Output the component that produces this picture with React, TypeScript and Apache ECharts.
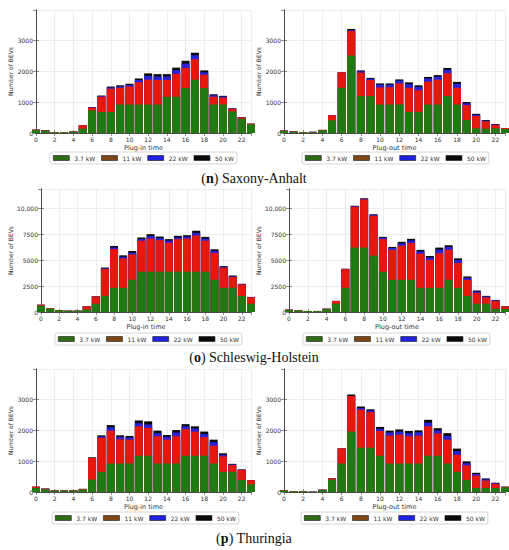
import React, { useEffect, useRef } from "react";
import * as echarts from "echarts";

const hours = [0, 1, 2, 3, 4, 5, 6, 7, 8, 9, 10, 11, 12, 13, 14, 15, 16, 17, 18, 19, 20, 21, 22, 23];
const seriesNames = ["3.7 kW", "11 kW", "22 kW", "50 kW"];

// (n) Saxony-Anhalt, plug-in
const saInG = [90, 75, 25, 25, 40, 140, 730, 680, 680, 920, 920, 920, 920, 920, 1170, 1170, 1450, 1720, 1450, 920, 920, 700, 460, 280];
const saInR = [15, 10, 5, 5, 10, 110, 90, 490, 750, 540, 580, 720, 800, 790, 540, 740, 650, 660, 430, 250, 220, 80, 45, 20];
const saInB = [0, 0, 0, 0, 0, 0, 10, 25, 40, 45, 50, 70, 120, 110, 110, 120, 140, 130, 80, 45, 35, 10, 5, 0];
const saInK = [5, 0, 0, 0, 0, 0, 10, 15, 30, 35, 40, 50, 85, 80, 80, 80, 90, 80, 60, 35, 25, 10, 5, 0];
// (n) Saxony-Anhalt, plug-out
const saOutG = [60, 40, 25, 20, 85, 410, 1460, 2500, 1190, 1190, 920, 920, 920, 680, 680, 920, 920, 1190, 920, 420, 150, 140, 150, 130];
const saOutR = [15, 10, 5, 10, 15, 160, 500, 790, 760, 520, 550, 560, 680, 780, 700, 740, 800, 740, 540, 480, 400, 240, 110, 30];
const saOutB = [0, 0, 0, 10, 0, 0, 0, 30, 40, 40, 90, 80, 90, 120, 110, 100, 100, 110, 130, 60, 40, 20, 15, 0];
const saOutK = [5, 0, 0, 0, 0, 0, 0, 40, 30, 30, 40, 40, 40, 55, 50, 50, 50, 60, 60, 40, 30, 20, 15, 0];
// (o) Schleswig-Holstein, plug-in
const shInG = [600, 330, 160, 110, 110, 250, 800, 1560, 2340, 2340, 3120, 3900, 3900, 3900, 3900, 3900, 3900, 3900, 3900, 3120, 2340, 2340, 1560, 800];
const shInR = [100, 60, 35, 20, 20, 300, 700, 2600, 3750, 2850, 2450, 3000, 3200, 3050, 2800, 3150, 3200, 3500, 3000, 2600, 1950, 1050, 1100, 620];
const shInB = [0, 0, 0, 0, 0, 0, 0, 60, 150, 150, 170, 160, 250, 200, 200, 170, 180, 250, 200, 200, 80, 70, 40, 0];
const shInK = [0, 0, 0, 0, 0, 0, 30, 80, 150, 140, 160, 150, 180, 150, 150, 150, 150, 210, 170, 150, 70, 70, 30, 40];
// (o) Schleswig-Holstein, plug-out
const shOutG = [200, 140, 90, 90, 280, 800, 2340, 6230, 6230, 5450, 3900, 3120, 3120, 3120, 2340, 2340, 2340, 3120, 2340, 1560, 800, 800, 300, 300];
const shOutR = [30, 20, 10, 10, 40, 270, 1800, 3950, 4650, 3850, 3150, 2900, 3300, 3550, 3300, 2700, 3350, 2900, 2400, 1550, 1050, 620, 770, 230];
const shOutB = [0, 0, 0, 0, 0, 0, 0, 50, 60, 80, 130, 170, 220, 250, 230, 230, 340, 270, 280, 200, 130, 80, 60, 0];
const shOutK = [0, 0, 0, 0, 0, 0, 50, 60, 60, 80, 90, 110, 150, 160, 140, 150, 200, 170, 170, 130, 100, 60, 40, 20];
// (p) Thuringia, plug-in
const thInG = [130, 90, 45, 45, 45, 80, 400, 650, 920, 920, 920, 1170, 1170, 920, 920, 920, 1170, 1170, 1170, 920, 650, 650, 390, 250];
const thInR = [40, 20, 10, 10, 10, 20, 700, 1100, 1060, 780, 770, 950, 900, 880, 770, 880, 860, 780, 600, 570, 500, 220, 320, 130];
const thInB = [0, 0, 0, 0, 0, 0, 0, 40, 100, 80, 70, 100, 110, 100, 90, 120, 90, 100, 100, 120, 50, 20, 10, 0];
const thInK = [0, 0, 0, 0, 0, 0, 20, 40, 80, 50, 50, 90, 100, 80, 60, 80, 70, 70, 80, 80, 50, 20, 10, 0];
// (p) Thuringia, plug-out
const thOutG = [50, 25, 25, 10, 65, 400, 920, 1950, 1430, 1430, 1170, 920, 920, 920, 920, 1170, 1170, 920, 650, 390, 130, 130, 130, 150];
const thOutR = [10, 5, 5, 0, 10, 40, 490, 1150, 1230, 1150, 800, 900, 930, 880, 900, 950, 720, 770, 550, 470, 400, 240, 130, 20];
const thOutB = [0, 0, 0, 0, 0, 0, 0, 0, 50, 50, 70, 100, 100, 100, 110, 120, 100, 120, 120, 70, 50, 40, 20, 0];
const thOutK = [0, 0, 0, 0, 0, 0, 0, 50, 50, 40, 60, 60, 70, 70, 60, 90, 70, 90, 80, 60, 40, 30, 20, 0];

const captions = [
  { letter: "n", name: "Saxony-Anhalt" },
  { letter: "o", name: "Schleswig-Holstein" },
  { letter: "p", name: "Thuringia" },
];

const FONT = "DejaVu Sans";
const barColors = ["#1f7a12", "#e8170c", "#2a22d8", "#0a0a0a"];
const legendColors = ["#2f6a14", "#7e4614", "#1f1fe0", "#0a0a0a"];

const panels = [
  { left: 36, top: 10, width: 215, yMax: 3970, interval: 1000, xName: "Plug-in time", nameGap: 23, legendLeft: 50, legendTop: 152, data: [saInG, saInR, saInB, saInK] },
  { left: 284, top: 10, width: 221, yMax: 3970, interval: 1000, xName: "Plug-out time", nameGap: 23, legendLeft: 302, legendTop: 152, data: [saOutG, saOutR, saOutB, saOutK] },
  { left: 41, top: 189, width: 210, yMax: 11900, interval: 2500, xName: "Plug-in time", nameGap: 28, legendLeft: 55, legendTop: 333, data: [shInG, shInR, shInB, shInK] },
  { left: 289, top: 189, width: 216, yMax: 11900, interval: 2500, xName: "Plug-out time", nameGap: 28, legendLeft: 303, legendTop: 333, data: [shOutG, shOutR, shOutB, shOutK] },
  { left: 36, top: 369, width: 215, yMax: 3970, interval: 1000, xName: "Plug-in time", nameGap: 23, legendLeft: 52, legendTop: 512, data: [thInG, thInR, thInB, thInK] },
  { left: 284, top: 369, width: 221, yMax: 3970, interval: 1000, xName: "Plug-out time", nameGap: 23, legendLeft: 301, legendTop: 512, data: [thOutG, thOutR, thOutB, thOutK] },
];

const captionY = [178, 357, 538];

const fmt = (v: number) => (v >= 10000 ? v.toLocaleString("en-US") : String(v));

export default function App() {
  const ref = useRef<HTMLDivElement>(null);
  useEffect(() => {
    if (!ref.current) return;
    const chart = echarts.init(ref.current, null, { renderer: "svg" });
    const axisLine = { show: true, lineStyle: { color: "#444", width: 0.8 } };
    const tick = { show: true, inside: true, length: 3, lineStyle: { color: "#444", width: 0.6 } };
    const split = { show: true, lineStyle: { color: "#e2e2e2", width: 0.6 } };
    const grid: any[] = [];
    const xAxis: any[] = [];
    const yAxis: any[] = [];
    const series: any[] = [];
    const legend: any[] = [];
    panels.forEach((p, i) => {
      grid.push({ left: p.left, top: p.top, width: p.width, height: 123, containLabel: false });
      xAxis.push({
        gridIndex: i, type: "value", min: 0, max: 23, interval: 2, position: "bottom",
        name: p.xName, nameLocation: "middle", nameGap: 11,
        nameTextStyle: { fontSize: 6.5, color: "#333", fontFamily: FONT },
        axisLine, axisTick: tick,
        axisLabel: { fontSize: 6, color: "#333", margin: 3, showMaxLabel: false, fontFamily: FONT },
        splitLine: split,
      });
      xAxis.push({
        gridIndex: i, type: "value", min: 0, max: 23, interval: 2, position: "top",
        axisLine, axisTick: tick, axisLabel: { show: false }, splitLine: { show: false },
      });
      yAxis.push({
        gridIndex: i, type: "value", min: 0, max: p.yMax, interval: p.interval, position: "left",
        name: "Number of BEVs", nameLocation: "middle", nameGap: p.nameGap,
        nameTextStyle: { fontSize: 6, color: "#333", fontFamily: FONT },
        axisLine, axisTick: tick,
        axisLabel: { fontSize: 6, color: "#333", margin: 3, showMaxLabel: false, fontFamily: FONT, formatter: fmt },
        splitLine: split,
      });
      yAxis.push({
        gridIndex: i, type: "value", min: 0, max: p.yMax, interval: p.interval, position: "right",
        axisLine, axisTick: tick, axisLabel: { show: false }, splitLine: { show: false },
      });
      // stacked tops: draw the tallest (cumulative) bar first, smaller cumulative sums on top
      const cumulative = p.data.map((_, k) =>
        hours.map((_h, j) => p.data.slice(0, k + 1).reduce((s, arr) => s + arr[j], 0))
      );
      for (let k = p.data.length - 1; k >= 0; k--) {
        series.push({
          type: "bar", name: seriesNames[k],
          xAxisIndex: i * 2, yAxisIndex: i * 2,
          barWidth: 8, barGap: "-100%", clip: true,
          itemStyle: { color: barColors[k] },
          data: hours.map((h, j) => [h, cumulative[k][j]]),
        });
      }
      legend.push({
        left: p.legendLeft, top: p.legendTop, orient: "horizontal",
        itemWidth: 16, itemHeight: 5, itemGap: 6, padding: [3, 3],
        borderColor: "#cccccc", borderWidth: 0.8, borderRadius: 2, backgroundColor: "#fff",
        selectedMode: false,
        textStyle: { fontSize: 6, color: "#333", fontFamily: FONT },
        data: seriesNames.map((n, k) => ({
          name: n, icon: "rect",
          itemStyle: { color: legendColors[k], borderColor: "#1a1a1a", borderWidth: 0.6 },
        })),
      });
    });
    const rich = {
      a: { fontFamily: "Liberation Serif", fontSize: 14, fill: "#111" },
      b: { fontFamily: "Liberation Serif", fontSize: 14, fontWeight: "bold", fill: "#111" },
    };
    const graphic = captions.map((c, i) => ({
      type: "text", x: 254, y: captionY[i],
      style: {
        text: "{a|(}{b|" + c.letter + "}{a|) " + c.name + "}",
        rich, align: "center", verticalAlign: "middle",
        textAlign: "center", textVerticalAlign: "middle",
      },
    }));
    chart.setOption({
      animation: false,
      backgroundColor: "#fff",
      grid, xAxis, yAxis, series, legend, graphic,
    });
    return () => chart.dispose();
  }, []);
  return <div ref={ref} style={{ position: "absolute", left: 0, top: 0, width: 509, height: 550 }} />;
}
